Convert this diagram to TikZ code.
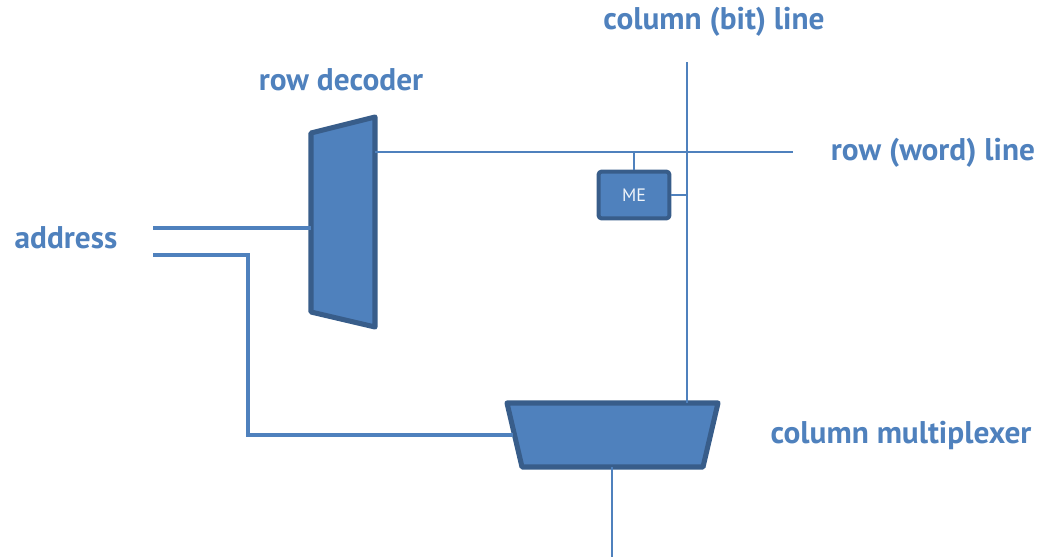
\documentclass[tikz,border=0pt]{standalone}
\usepackage{fontspec}
\setmainfont{PT Sans}
\definecolor{lbl}{RGB}{79,129,189}
\definecolor{fillb}{RGB}{79,129,189}
\definecolor{edgeb}{RGB}{56,93,138}
\begin{document}
\begin{tikzpicture}[x={(0.75pt,0)},y={(0,-0.75pt)},
  lab/.style={text=lbl,font=\bfseries\fontsize{23.5}{27}\selectfont,inner sep=0pt},
  thinw/.style={draw=lbl,line width=1.2pt},
  thickw/.style={draw=lbl,line width=3.4pt},
  blk/.style={fill=fillb,draw=edgeb,line width=3.8pt,line join=round}]
\useasboundingbox (0,0) rectangle (1037,557);
% row decoder
\draw[blk] (311,133) -- (375,117) -- (375,327) -- (311,312) -- cycle;
\coordinate (rdL) at (311,228);
\coordinate (rdR) at (375,152);
% mux
\draw[blk] (507,403) -- (718,403) -- (703,467) -- (522,467) -- cycle;
\coordinate (muxL) at (513,435);
\coordinate (muxT) at (687,403);
\coordinate (muxB) at (612,467);
% ME
\node[blk,line width=3pt,rounded corners=2pt,minimum width=53pt,minimum height=35pt,inner sep=0pt,
  text=white!92!lbl,font=\fontsize{13.5}{15}\selectfont] (me) at (634,195) {ME};
% lines
\coordinate (rowend) at (793,152);
\coordinate (coltop) at (687,62);
\coordinate (outB) at (612,557);
\coordinate (a1) at (153,228);
\coordinate (a2) at (153,255);
\draw[thinw] (rdR) -- (rowend);
\draw[thinw] (coltop) -- (muxT);
\draw[thinw] (me.north) -- (me.north |- rowend);
\draw[thinw] (me.east) -- (me.east -| coltop);
\draw[thinw] (muxB) -- (outB);
\draw[thickw] (a1) -- (rdL);
\draw[thickw] (a2) -- (248,255) -- (248,435) -- (muxL);
% labels
\node[lab] (t1) at (714,22) {column (bit) line};
\node[lab] (t2) at (341,80) {row decoder};
\node[lab] (t3) at (933,153) {row (word) line};
\node[lab] (t4) at (66,238) {address};
\node[lab] (t5) at (901,435) {column multiplexer};
\end{tikzpicture}
\end{document}
